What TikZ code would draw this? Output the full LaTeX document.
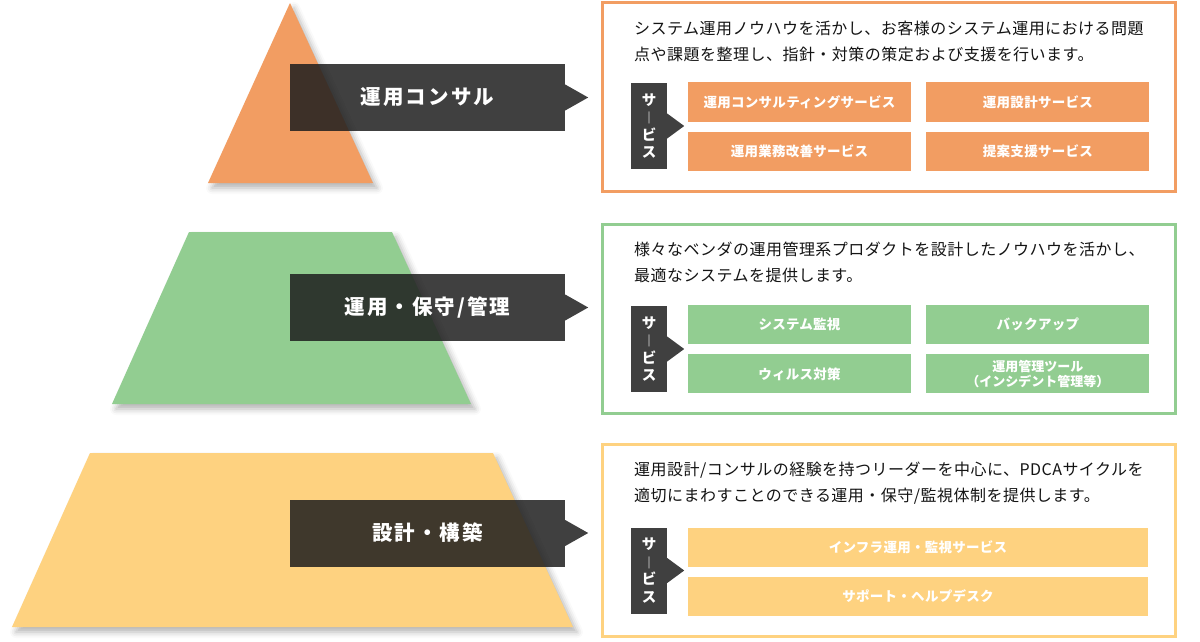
\documentclass[tikz,border=0pt]{standalone}
\usepackage{fontspec}
\setmainfont{Noto Sans CJK JP}
\usetikzlibrary{positioning, shadows.blur}
\definecolor{naranja}{RGB}{242,157,98}
\definecolor{verde}{RGB}{146,205,145}
\definecolor{amarillo}{RGB}{254,210,128}
\definecolor{oscuro}{RGB}{30,30,30}
\definecolor{texto}{RGB}{20,20,20}
\tikzset{
  nivel/.style={blur shadow={shadow xshift=4pt, shadow yshift=-5pt,
    shadow blur radius=6pt, shadow opacity=30}},
  rotulo/.style={rectangle, fill=oscuro, fill opacity=.85, text opacity=1,
    text=white, minimum width=275pt, minimum height=67pt, inner sep=0pt,
    font=\fontsize{20.5}{24}\selectfont\bfseries\addfontfeatures{LetterSpace=10}},
  marco/.style={rectangle, draw=#1, line width=3pt, fill=white,
    minimum width=573pt, inner sep=0pt},
  cuerpo/.style={anchor=north west, inner sep=0pt, align=left, text=texto,
    font=\fontsize{16}{26}\selectfont\addfontfeatures{LetterSpace=3}},
  marca/.style={rectangle, fill=oscuro!85!white, text=white, inner sep=0pt,
    minimum width=36pt, minimum height=86pt, align=center,
    font=\fontsize{14.5}{17.5}\selectfont\bfseries},
  servicio/.style={rectangle, fill=#1, text=white, inner sep=0pt,
    minimum width=223pt, minimum height=39pt, align=center,
    font=\fontsize{13.5}{16}\selectfont\bfseries\addfontfeatures{LetterSpace=2}},
  ancho/.style={minimum width=460pt}
}
\newcommand{\rayav}{{\fontsize{12}{12}\selectfont ｜}}

\begin{document}
\begin{tikzpicture}[x=1pt, y=-1pt]
  \useasboundingbox (0,0) rectangle (1200,642);
  % piramide
  \fill[naranja, nivel] (290,3) -- (373,183) -- (208,183) -- cycle;
  \fill[verde, nivel] (189,232) -- (392,232) -- (471,404) -- (112,404) -- cycle;
  \fill[amarillo, nivel] (90,453) -- (493,453) -- (573,627) -- (12,627) -- cycle;

  % rotulos
  \node[rotulo] (rcons) at (427.5,97.5) {運用コンサル};
  \node[rotulo] (rman) at (427.5,307.5) {運用・保守/管理};
  \node[rotulo] (rcon) at (427.5,533) {設計・構築};
  \foreach \r in {rcons, rman, rcon}
    \fill[oscuro, opacity=.85] (\r.east) ++(0,-13) -- ++(23,13) -- ++(-23,13) -- cycle;

  % consultoria
  \node[marco=naranja, minimum height=189pt] (mcons) at (889,97) {};
  \node[cuerpo] (tcons) at (634,21)
    {システム運用ノウハウを活かし、お客様のシステム運用における問題\\点や課題を整理し、指針・対策の策定および支援を行います。};
  \node[marca] (mk1) at (649,126) {サ\\\rayav\\ビ\\ス};
  \node[servicio=naranja] (s11) at (799.5,102) {運用コンサルティングサービス};
  \node[servicio=naranja, right=15pt of s11] (s12) {運用設計サービス};
  \node[servicio=naranja, below=10pt of s11] (s13) {運用業務改善サービス};
  \node[servicio=naranja, below=10pt of s12] (s14) {提案支援サービス};

  % mantenimiento
  \node[marco=verde, minimum height=189pt] (mman) at (889,319) {};
  \node[cuerpo] (tman) at (634,242)
    {様々なベンダの運用管理系プロダクトを設計したノウハウを活かし、\\最適なシステムを提供します。};
  \node[marca] (mk2) at (649,349) {サ\\\rayav\\ビ\\ス};
  \node[servicio=verde] (s21) at (799.5,324.5) {システム監視};
  \node[servicio=verde, right=15pt of s21] (s22) {バックアップ};
  \node[servicio=verde, below=10pt of s21] (s23) {ウィルス対策};
  \node[servicio=verde, below=10pt of s22, font=\fontsize{13}{15}\selectfont\bfseries] (s24)
    {運用管理ツール\\（インシデント管理等）};

  % construccion
  \node[marco=amarillo, minimum height=192pt] (mcon) at (889,540.5) {};
  \node[cuerpo] (tcon) at (634,462)
    {運用設計/コンサルの経験を持つリーダーを中心に、PDCAサイクルを\\適切にまわすことのできる運用・保守/監視体制を提供します。};
  \node[marca] (mk3) at (649,570.5) {サ\\\rayav\\ビ\\ス};
  \node[servicio=amarillo, ancho] (s31) at (918,547) {インフラ運用・監視サービス};
  \node[servicio=amarillo, ancho, below=10pt of s31] (s32) {サポート・ヘルプデスク};

  \foreach \m in {mk1, mk2, mk3}
    \fill[oscuro!85!white] (\m.east) ++(0,-12.5) -- ++(17,12.5) -- ++(-17,12.5) -- cycle;
\end{tikzpicture}
\end{document}
